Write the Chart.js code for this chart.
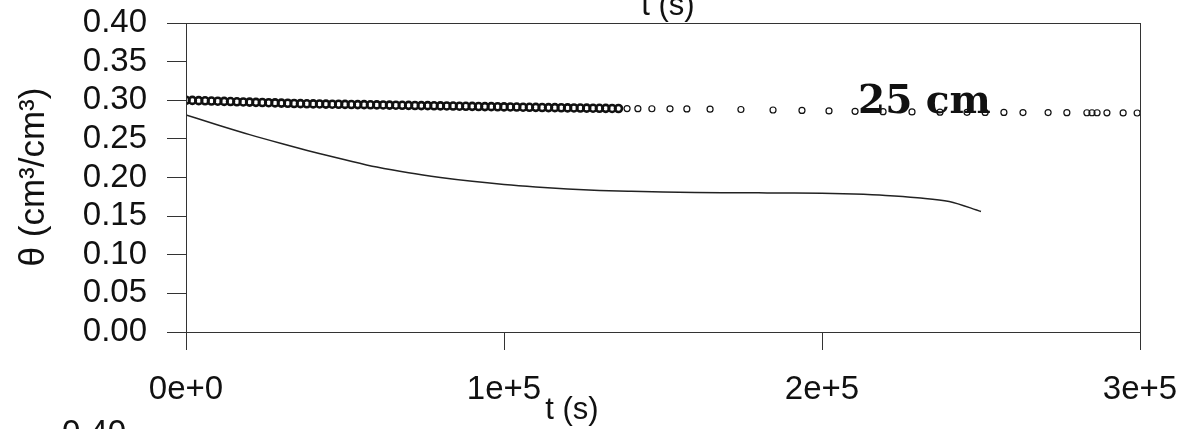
<!DOCTYPE html>
<html>
<head>
<meta charset="utf-8">
<script src="https://cdn.jsdelivr.net/npm/chart.js@4/dist/chart.umd.min.js"></script>
<style>
  html, body { margin: 0; padding: 0; background: #fff; }
</style>
</head>
<body>
<canvas id="chart" width="1188" height="429"></canvas>
<script>
// --- DATA ---
// seri lingkaran terbuka "25 cm": rapat di awal, jarang setelah ~1.4e5 s
const tCircle = [
  0, 2000, 4000, 6000, 8000, 10000, 12000, 14000, 16000, 18000,
  20000, 22000, 24000, 26000, 28000, 30000, 32000, 34000, 36000, 38000,
  40000, 42000, 44000, 46000, 48000, 50000, 52000, 54000, 56000, 58000,
  60000, 62000, 64000, 66000, 68000, 70000, 72000, 74000, 76000, 78000,
  80000, 82000, 84000, 86000, 88000, 90000, 92000, 94000, 96000, 98000,
  100000, 102000, 104000, 106000, 108000, 110000, 112000, 114000, 116000, 118000,
  120000, 122000, 124000, 126000, 128000, 130000, 132000, 134000, 136000,
  138700, 142100, 146500, 152200, 157500, 164800, 174500, 184600, 193700, 202200,
  210400, 219200, 228300, 237100, 245600, 251300, 257200, 263200, 271100, 277000,
  283300, 284900, 286500, 289600, 294700, 299100
];
const thetaCircle = [
  0.3000, 0.2998, 0.2995, 0.2993, 0.2990, 0.2988, 0.2985, 0.2983, 0.2980, 0.2978,
  0.2976, 0.2973, 0.2971, 0.2968, 0.2966, 0.2963, 0.2961, 0.2958, 0.2956, 0.2954,
  0.2953, 0.2952, 0.2950, 0.2949, 0.2948, 0.2946, 0.2945, 0.2944, 0.2943, 0.2941,
  0.2940, 0.2939, 0.2937, 0.2936, 0.2935, 0.2934, 0.2932, 0.2931, 0.2930, 0.2928,
  0.2927, 0.2926, 0.2925, 0.2923, 0.2922, 0.2921, 0.2919, 0.2918, 0.2917, 0.2916,
  0.2914, 0.2913, 0.2912, 0.2910, 0.2909, 0.2908, 0.2906, 0.2905, 0.2904, 0.2903,
  0.2901, 0.2900, 0.2899, 0.2898, 0.2897, 0.2896, 0.2895, 0.2894, 0.2893,
  0.2892, 0.2891, 0.2890, 0.2889, 0.2888, 0.2885, 0.2880, 0.2874, 0.2868, 0.2862,
  0.2857, 0.2852, 0.2849, 0.2846, 0.2844, 0.2843, 0.2842, 0.2841, 0.2840, 0.2839,
  0.2838, 0.2838, 0.2838, 0.2837, 0.2836, 0.2835
];

// seri garis (kurva kontinu)
const tLine = [
  0, 10000, 20000, 30000, 40000, 50000, 60000, 70000, 80000, 90000,
  100000, 110000, 120000, 130000, 140000, 150000, 160000, 170000, 180000, 190000,
  200000, 210000, 220000, 230000, 240000, 250000
];
const thetaLine = [
  0.2810, 0.2680, 0.2555, 0.2440, 0.2330, 0.2230, 0.2135, 0.2060, 0.2000, 0.1950,
  0.1910, 0.1878, 0.1852, 0.1833, 0.1821, 0.1812, 0.1806, 0.1803, 0.1801, 0.1799,
  0.1795, 0.1785, 0.1768, 0.1738, 0.1690, 0.1560
];

const xTickValues = [0, 100000, 200000, 300000];
const xTickLabels = ['0e+0', '1e+5', '2e+5', '3e+5'];
const yTickLabels = ['0.00', '0.05', '0.10', '0.15', '0.20', '0.25', '0.30', '0.35', '0.40'];

const FONT = '"Liberation Sans", Arial, sans-serif';
const DENSE_END = 136000;

function toPoints(xs, ys) {
    return xs.map((x, i) => ({ x: x, y: ys[i] }));
}

// Teks tambahan: judul sumbu, anotasi, sisa teks dari panel lain
const extraText = {
    id: 'extraText',
    afterDatasetsDraw(chart) {
        const ctx = chart.ctx;
        const a = chart.chartArea;
        ctx.save();
        // bingkai plot
        ctx.strokeStyle = '#333';
        ctx.lineWidth = 1;
        ctx.strokeRect(a.left + 0.5, a.top + 0.5, a.right - a.left, a.bottom - a.top);

        ctx.fillStyle = '#111';
        // anotasi
        ctx.font = 'bold 39px "DejaVu Serif", serif';
        ctx.textAlign = 'left';
        ctx.textBaseline = 'alphabetic';
        ctx.fillText('25 cm', 858, 113);

        // judul sumbu x
        ctx.font = '31px ' + FONT;
        ctx.textAlign = 'center';
        ctx.fillText('t (s)', 572, 419);

        // sisa judul panel atas (terpotong)
        ctx.fillText('t (s)', 668, 15);

        // sisa label panel bawah (terpotong)
        ctx.font = '33px ' + FONT;
        ctx.textAlign = 'left';
        ctx.fillText('0.40', 62, 443);

        // judul sumbu y
        ctx.translate(34, 177);
        ctx.rotate(-Math.PI / 2);
        ctx.textAlign = 'center';
        ctx.textBaseline = 'middle';
        ctx.font = '35px ' + FONT;
        ctx.fillText('\u03B8 (cm\u00B3/cm\u00B3)', 0, 0);
        ctx.restore();
    }
};

const ctx = document.getElementById('chart').getContext('2d');
new Chart(ctx, {
    type: 'scatter',
    data: {
        datasets: [
            {
                label: '25 cm',
                data: toPoints(tCircle, thetaCircle),
                showLine: false,
                pointStyle: 'circle',
                pointRadius: c => (c.raw && c.raw.x <= DENSE_END ? 3.5 : 3),
                pointBorderWidth: c => (c.raw && c.raw.x <= DENSE_END ? 2.6 : 1.2),
                pointBorderColor: '#111',
                pointBackgroundColor: 'rgba(255,255,255,0)'
            },
            {
                label: 'kurva',
                data: toPoints(tLine, thetaLine),
                showLine: true,
                borderColor: '#222',
                borderWidth: 1.5,
                pointRadius: 0,
                cubicInterpolationMode: 'monotone',
                fill: false
            }
        ]
    },
    options: {
        responsive: false,
        animation: false,
        layout: { padding: { top: 23, right: 48, left: 0, bottom: 0 } },
        plugins: {
            legend: { display: false },
            tooltip: { enabled: false }
        },
        scales: {
            x: {
                type: 'linear',
                min: 0,
                max: 300000,
                afterFit(scale) {
                    scale.height = 97;
                    scale.paddingLeft = 0;
                    scale.paddingRight = 0;
                },
                afterBuildTicks(scale) { scale.ticks = xTickValues.map(v => ({ value: v })); },
                ticks: {
                    font: { family: FONT, size: 33 },
                    color: '#111',
                    padding: 20,
                    maxRotation: 0,
                    autoSkip: false,
                    callback: v => xTickLabels[xTickValues.indexOf(v)]
                },
                grid: { drawOnChartArea: false, drawTicks: true, tickLength: 18, color: '#333', lineWidth: 1 },
                border: { display: true, color: '#333', width: 1 }
            },
            y: {
                min: 0,
                max: 0.4,
                afterFit(scale) {
                    scale.width = 186;
                    scale.paddingTop = 0;
                    scale.paddingBottom = 0;
                },
                afterBuildTicks(scale) { scale.ticks = yTickLabels.map(s => ({ value: parseFloat(s) })); },
                ticks: {
                    font: { family: FONT, size: 33 },
                    color: '#111',
                    padding: 20,
                    autoSkip: false,
                    callback: v => v.toFixed(2)
                },
                grid: { drawOnChartArea: false, drawTicks: true, tickLength: 19, color: '#333', lineWidth: 1 },
                border: { display: true, color: '#333', width: 1 }
            }
        }
    },
    plugins: [extraText]
});
</script>
</body>
</html>
